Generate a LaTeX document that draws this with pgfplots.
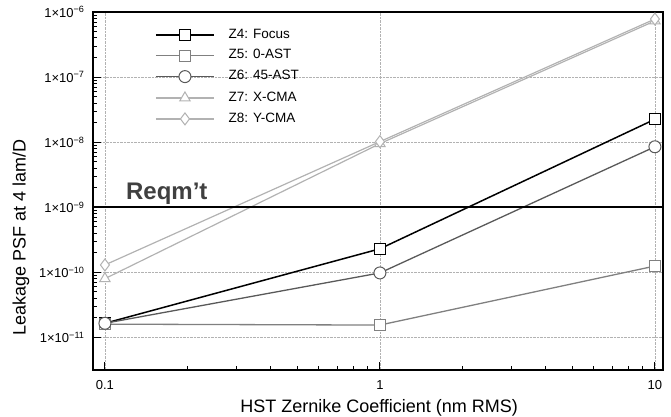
\documentclass[border=0pt]{standalone}
\usepackage{fontspec}
\setmainfont{Liberation Sans}
\usepackage{pgfplots}
\pgfplotsset{compat=1.18}
\begin{document}
\begin{tikzpicture}
\useasboundingbox (-93pt,-47pt) rectangle (578pt,370pt);
\begin{axis}[
  at={(0pt,0pt)}, anchor=south west,
  scale only axis, width=570pt, height=358pt,
  xmode=log, ymode=log,
  xmin=0.0905, xmax=10.7, ymin=3.16e-12, ymax=1e-6,
  xtick={0.1,1,10}, xticklabels={0.1,1,10},
  ytick={1e-11,1e-10,1e-9,1e-8,1e-7,1e-6},
  yticklabels={1×10\textsuperscript{−11},1×10\textsuperscript{−10},1×10\textsuperscript{−9},1×10\textsuperscript{−8},1×10\textsuperscript{−7},1×10\textsuperscript{−6}},
  tick pos=left,
  major tick length=8pt, minor tick length=4pt,
  tick style={black, line width=0.9pt},
  grid=major, major grid style={densely dotted, gray!60, line width=0.6pt},
  axis line style={line width=2pt},
  ticklabel style={font=\fontsize{13}{15}\selectfont},
  xticklabel style={yshift=-7pt},
  yticklabel style={xshift=-5pt},
  xlabel={HST Zernike Coefficient (nm RMS)},
  ylabel={Leakage PSF at 4 lam/D},
  label style={font=\fontsize{18}{21}\selectfont},
  xlabel style={at={(axis description cs:0.502,-0.1173)}, anchor=base},
  ylabel style={at={(axis description cs:-0.1263,0.37)}, anchor=center},
  legend style={draw=none, fill=none, inner sep=0pt,
    at={(axis description cs:0.1088,0.9525)}, anchor=north west,
    font=\fontsize{13.5}{15}\selectfont,
    nodes={inner sep=0pt, text height=9pt, text depth=2.4pt},
    row sep=9.3pt, column sep=14pt},
  legend cell align=left,
  legend image code/.code={\draw[mark repeat=2,mark phase=2,#1] plot coordinates {(0pt,0pt) (29pt,0pt) (58pt,0pt)};},
]
\addplot[black, line width=1.5pt, mark=square*, mark size=5.5pt, mark options={fill=white, line width=1pt}]
  coordinates {(0.1,1.65e-11) (1,2.3e-10) (10,2.25e-8)};
\addlegendentry{Z4: Focus}
\addplot[black!50, line width=1.3pt, mark=square*, mark size=5.5pt, mark options={fill=white, line width=1pt}]
  coordinates {(0.1,1.6e-11) (1,1.55e-11) (10,1.25e-10)};
\addlegendentry{Z5: 0-AST}
\addplot[black!65, line width=1.3pt, mark=*, mark size=6pt, mark options={fill=white, line width=1pt}]
  coordinates {(0.1,1.65e-11) (1,9.8e-11) (10,8.5e-9)};
\addlegendentry{Z6: 45-AST}
\addplot[black!30, line width=1.2pt, mark=triangle*, mark size=6pt, mark options={fill=white, line width=1pt}]
  coordinates {(0.1,8e-11) (1,9.5e-9) (10,7.3e-7)};
\addlegendentry{Z7: X-CMA}
\addplot[black!30, line width=1.2pt, mark=diamond*, mark size=6pt, mark options={fill=white, line width=1pt}]
  coordinates {(0.1,1.3e-10) (1,1.02e-8) (10,7.8e-7)};
\addlegendentry{Z8: Y-CMA}
\addplot[black, line width=1.6pt, forget plot] coordinates {(0.0905,1e-9) (10.7,1e-9)};
\node[anchor=base west, inner sep=0pt, font=\fontsize{24}{28}\selectfont\bfseries, text=black!75] at (axis cs:0.1192,1.327e-9) {Reqm’t};
\end{axis}
\end{tikzpicture}
\end{document}
